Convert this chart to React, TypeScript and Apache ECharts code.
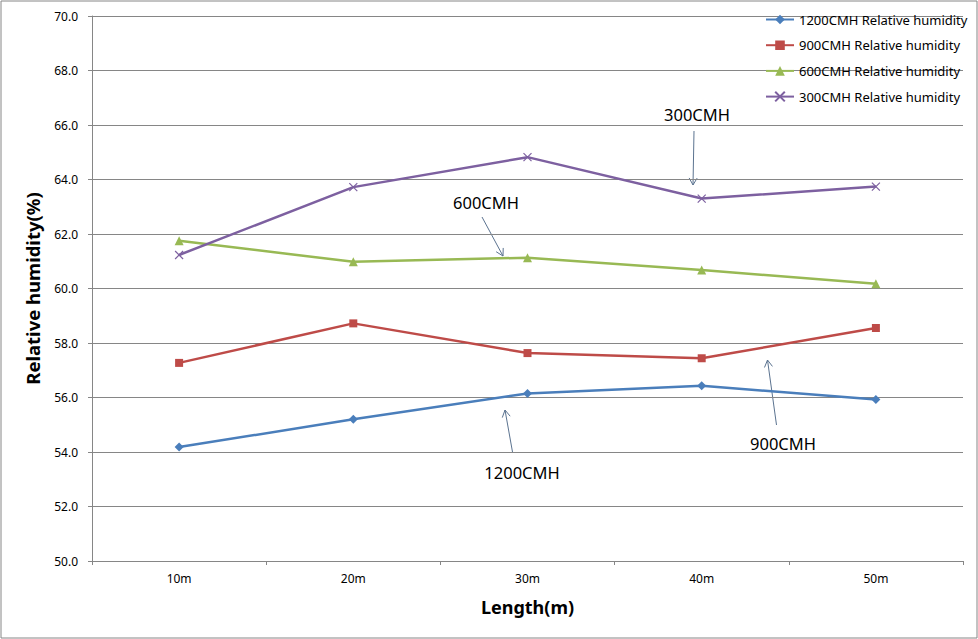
import React, { useEffect, useRef } from "react";
import * as echarts from "echarts";

const categories = ["10m", "20m", "30m", "40m", "50m"];
const rh1200 = [54.18, 55.2, 56.15, 56.43, 55.93];
const rh900 = [57.27, 58.72, 57.63, 57.44, 58.55];
const rh600 = [61.75, 60.98, 61.13, 60.68, 60.17];
const rh300 = [61.23, 63.72, 64.82, 63.3, 63.74];
const seriesNames = [
  "1200CMH Relative humidity",
  "900CMH Relative humidity",
  "600CMH Relative humidity",
  "300CMH Relative humidity",
];
const colors = ["#4A7EBB", "#BE4B48", "#98B954", "#7D60A0"];

const FONT = "'Noto Sans', 'DejaVu Sans', sans-serif";
const ARROW = "#5B7390";
const CROSS = "path://M0,0L10,10M10,0L0,10";

function arrow(x1: number, y1: number, x2: number, y2: number) {
  const dx = x2 - x1;
  const dy = y2 - y1;
  const len = Math.sqrt(dx * dx + dy * dy);
  const ux = dx / len;
  const uy = dy / len;
  const bx = x2 - ux * 7;
  const by = y2 - uy * 7;
  const px = -uy * 4;
  const py = ux * 4;
  return [
    {
      type: "line",
      shape: { x1, y1, x2, y2 },
      style: { stroke: ARROW, lineWidth: 1 },
      silent: true,
    },
    {
      type: "polyline",
      shape: {
        points: [
          [bx + px, by + py],
          [x2, y2],
          [bx - px, by - py],
        ],
      },
      style: { stroke: ARROW, lineWidth: 1, fill: "none" },
      silent: true,
    },
  ];
}

function note(text: string, x: number, y: number) {
  return {
    type: "text",
    x,
    y,
    style: {
      text,
      fontSize: 16.5,
      fontFamily: FONT,
      fill: "#000",
      align: "center",
      verticalAlign: "middle",
    },
    silent: true,
  };
}

export default function App() {
  const ref = useRef<HTMLDivElement>(null);
  useEffect(() => {
    document.body.style.margin = "0";
    const chart = echarts.init(ref.current!, null, { renderer: "svg" });
    const dataSets = [rh1200, rh900, rh600, rh300];
    const symbols = ["diamond", "rect", "triangle", CROSS];
    const sizes = [9, 8, 9, 8];
    chart.setOption({
      animation: false,
      backgroundColor: "#fff",
      textStyle: { fontFamily: FONT },
      grid: { left: 92, top: 16, width: 871, height: 545, containLabel: false },
      legend: {
        orient: "vertical",
        left: 765,
        top: 13,
        padding: 0,
        itemWidth: 28,
        itemHeight: 12,
        itemGap: 12.7,
        textStyle: { fontSize: 13, color: "#000", fontFamily: FONT },
        data: seriesNames,
      },
      xAxis: {
        type: "category",
        data: categories,
        boundaryGap: true,
        axisLine: { lineStyle: { color: "#868686", width: 1 } },
        axisTick: { show: true, length: 4, lineStyle: { color: "#868686" } },
        axisLabel: { fontSize: 12, color: "#000", margin: 11, fontFamily: FONT },
        name: "Length(m)",
        nameLocation: "middle",
        nameGap: 37,
        nameTextStyle: { fontSize: 18, fontWeight: "bold", color: "#000", fontFamily: FONT },
      },
      yAxis: {
        type: "value",
        min: 50,
        max: 70,
        interval: 2,
        axisLine: { show: true, lineStyle: { color: "#868686", width: 1 } },
        axisTick: { show: true, length: 4, lineStyle: { color: "#868686" } },
        splitLine: { show: true, lineStyle: { color: "#868686", width: 1 } },
        axisLabel: {
          fontSize: 12,
          color: "#000",
          margin: 14,
          fontFamily: FONT,
          formatter: (v: number) => v.toFixed(1),
        },
        name: "Relative humidity(%)",
        nameLocation: "middle",
        nameGap: 50,
        nameTextStyle: { fontSize: 18.5, fontWeight: "bold", color: "#000", fontFamily: FONT },
      },
      series: dataSets.map((d, i) => ({
        name: seriesNames[i],
        type: "line",
        data: d,
        symbol: symbols[i],
        symbolSize: sizes[i],
        showSymbol: true,
        lineStyle: { color: colors[i], width: 2.5 },
        itemStyle:
          i === 3
            ? { color: colors[i], borderColor: colors[i], borderWidth: 1.2 }
            : { color: colors[i] },
        z: 2 + i,
      })),
      graphic: [
        {
          type: "rect",
          shape: { x: 1, y: 1, width: 976, height: 637 },
          style: { fill: "none", stroke: "#868686", lineWidth: 1 },
          silent: true,
          z: -1,
        },
        note("300CMH", 697, 114),
        ...arrow(694, 131, 693, 185),
        note("600CMH", 486, 202),
        ...arrow(482, 217, 503, 256),
        note("1200CMH", 522, 472),
        ...arrow(512.5, 452, 505, 410),
        note("900CMH", 783, 443),
        ...arrow(776.5, 425, 767.5, 360),
      ],
    });
    return () => chart.dispose();
  }, []);
  return <div ref={ref} style={{ width: 978, height: 639 }} />;
}
